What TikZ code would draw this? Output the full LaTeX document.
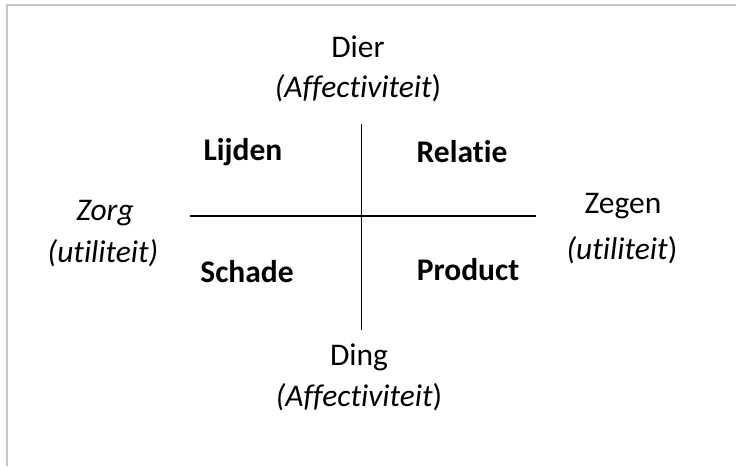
\documentclass[tikz,border=0pt]{standalone}
\usepackage{fontspec}
\setmainfont[Ligatures={NoCommon}]{Carlito}
\begin{document}
\begin{tikzpicture}[x=1pt,y=-1pt,
  lbl/.style={inner sep=0pt, font=\fontsize{31.5}{36}\selectfont},
  quad/.style={inner sep=0pt, font=\fontsize{31.5}{36}\selectfont\bfseries},
  axis/.style={line width=1.6pt, black},
  frame/.style={line width=2pt, draw=black!22}]
\useasboundingbox (0,0) rectangle (736,466);
\draw[frame] (7,466) -- (7,5) -- (736,5);
% axes
\coordinate (vt) at (361.5,124);
\coordinate (vb) at (361.5,330);
\coordinate (hl) at (190,216);
\coordinate (hr) at (536,216);
\draw[axis] (vt) -- (vb);
\draw[axis] (hl) -- (hr);
% labels
\node[lbl] (dier) at (358,47) {Dier};
\node[lbl] (dieraff) at (358,88) {\textit{(Affectiviteit})};
\node[lbl] (ding) at (359,357) {Ding};
\node[lbl] (dingaff) at (359,397) {\textit{(Affectiviteit})};
\node[lbl] (zorg) at (105,213) {\textit{Zorg}};
\node[lbl] (zorgut) at (103,253) {\textit{(utiliteit)}};
\node[lbl] (zegen) at (623,206) {Zegen};
\node[lbl] (zegenut) at (622,250) {\textit{(utiliteit})};
\node[quad] (lijden) at (243,152) {Lijden};
\node[quad] (relatie) at (462,152) {Relatie};
\node[quad] (schade) at (247,272) {Schade};
\node[quad] (product) at (468,270) {Product};
\end{tikzpicture}
\end{document}
